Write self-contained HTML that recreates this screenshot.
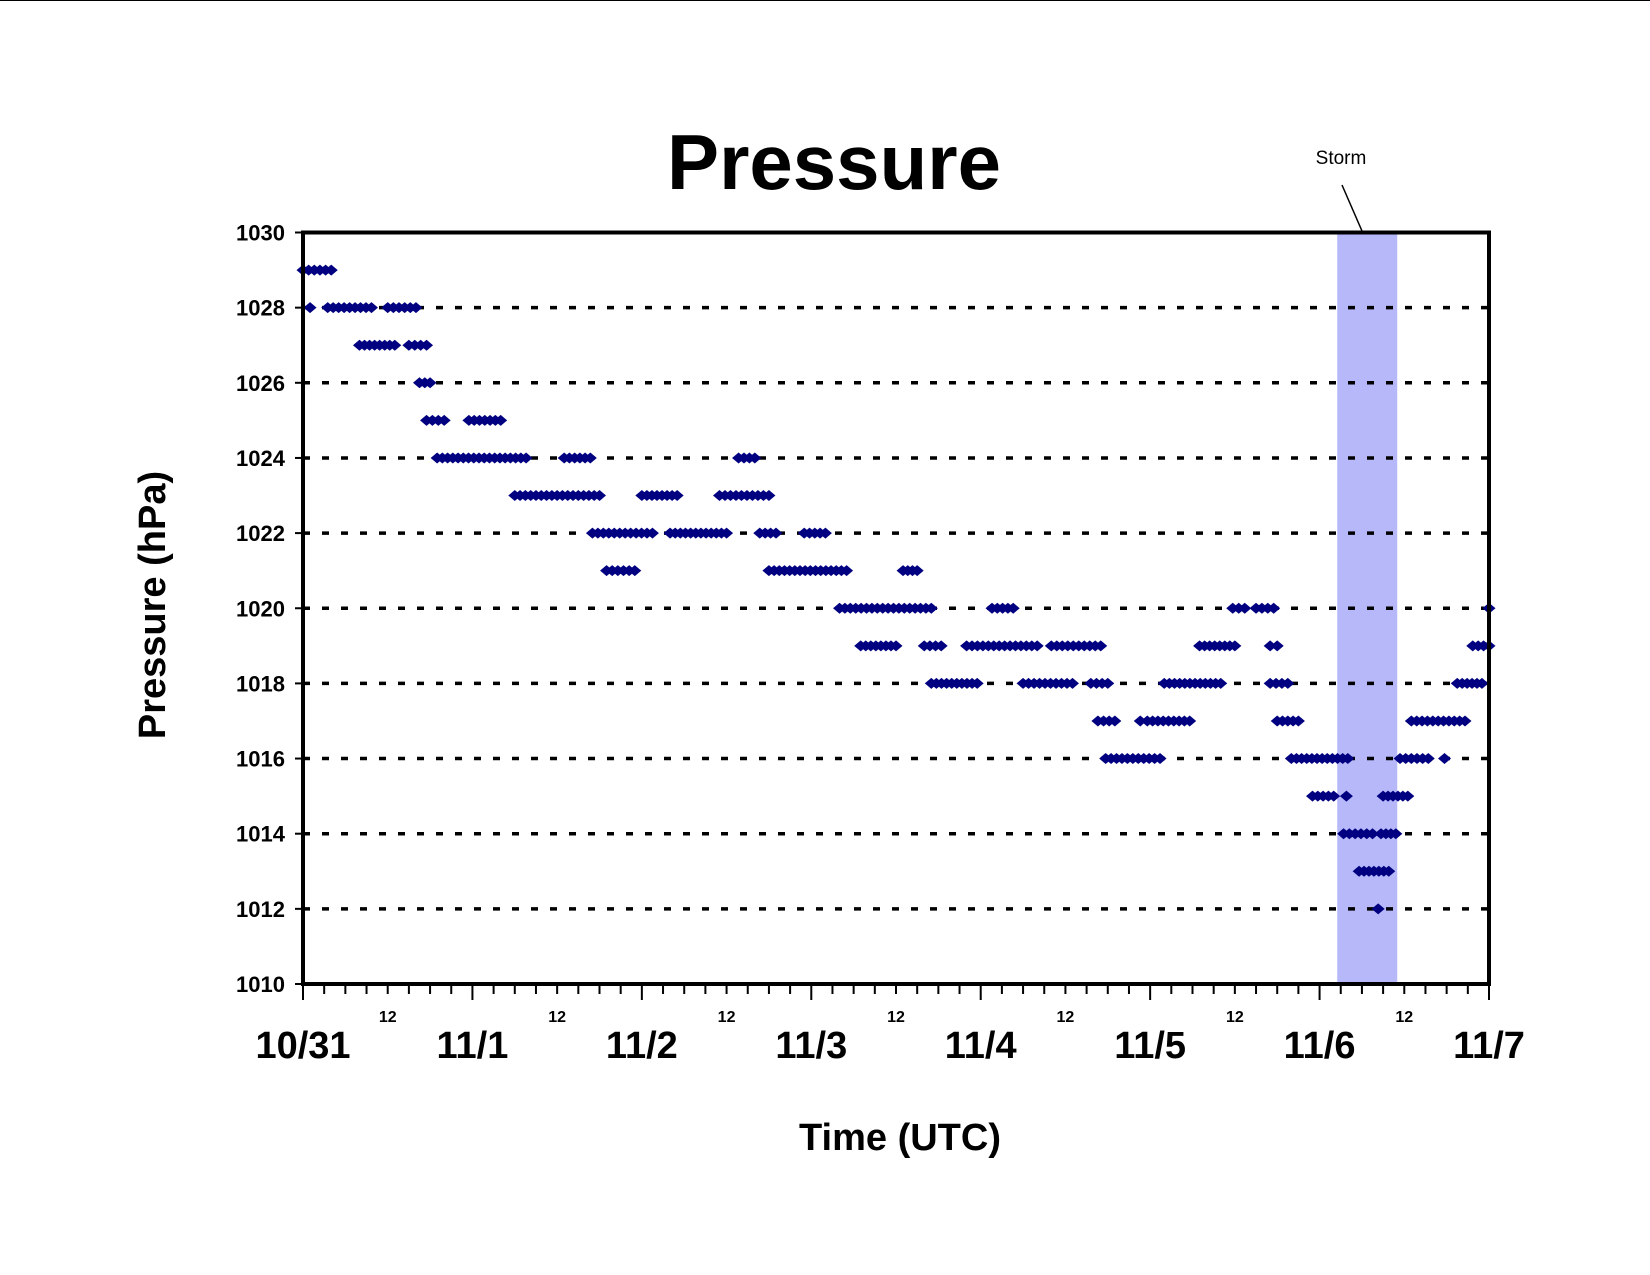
<!DOCTYPE html>
<html><head><meta charset="utf-8"><style>
html,body{margin:0;padding:0;background:#fff;}
svg{display:block;font-family:"Liberation Sans",Arial,sans-serif;}
</style></head><body>
<svg id="chart" width="1650" height="1275" viewBox="0 0 1650 1275" xmlns="http://www.w3.org/2000/svg">
<line x1="0" y1="0.5" x2="1650" y2="0.5" stroke="#000" stroke-width="1"/>
<text x="834" y="189" font-size="78" font-weight="bold" text-anchor="middle">Pressure</text>
<text transform="translate(165,605) rotate(-90)" font-size="38" font-weight="bold" text-anchor="middle">Pressure (hPa)</text>
<text x="900" y="1150" font-size="38" font-weight="bold" text-anchor="middle">Time (UTC)</text>
<g id="plot"></g>
</svg>
<script>
const yTicks=[1010,1012,1014,1016,1018,1020,1022,1024,1026,1028,1030];
const dayLabels=["10/31","11/1","11/2","11/3","11/4","11/5","11/6","11/7"];
const storm=[146.5,155];
// observation runs: start hour, end hour, pressure
const runStart=[0,1,3.5,12,8,15,16.5,17.5,23.5,19,37,61.7,30,48,59,41,52,64.7,71,43,66,85,76,97.6,131.7,135,168,79,88,94,106,127,137,165.7,89,102,111.6,122,137,163.5,112.6,118.6,119.6,138,157,113.7,140,155.4,161.7,143,147.8,153,147.4,152.7,149.6,152.3];
const runEnd  =[4,1,9.7,16,13,17.5,18,20,28,31.6,40.7,64,42,53,66,49.5,60,67,74,47,77,87,89,100.6,133.4,137.5,168,84,90.4,104,113,132,138,168,95.5,109,114,130,139.5,167,115,118.6,125.6,141,164.6,121.4,148,159.4,161.7,146,147.8,156.5,151.5,154.8,153.8,152.3];
const runValue=[1029,1028,1028,1028,1027,1027,1026,1025,1025,1024,1024,1024,1023,1023,1023,1022,1022,1022,1022,1021,1021,1021,1020,1020,1020,1020,1020,1019,1019,1019,1019,1019,1019,1019,1018,1018,1018,1018,1018,1018,1017,1017,1017,1017,1017,1016,1016,1016,1016,1015,1015,1015,1014,1014,1013,1012];

const L=303,R=1489,T=232.5,B=984;
const xS=h=>L+(h/168)*(R-L);
const yS=p=>B-(p-1010)/20*(B-T);
const NS="http://www.w3.org/2000/svg";
const g=document.getElementById('plot');
function mk(tag,attrs){const e=document.createElementNS(NS,tag);for(const k in attrs)e.setAttribute(k,attrs[k]);g.appendChild(e);return e;}

// storm band
let sb=mk('rect',{x:xS(storm[0]),y:T,width:xS(storm[1])-xS(storm[0]),height:B-T,fill:'#b6b8fa'});


let sl=mk('line',{x1:1342,y1:185,x2:1362,y2:231,stroke:'#000','stroke-width':1.5});


let st=mk('text',{x:1341,y:164,'font-size':19,'text-anchor':'middle'});
st.textContent='Storm';



// gridlines + y ticks
yTicks.forEach(v=>{
  const y=yS(v);
  if(v!==1010&&v!==1030){
    let gl=mk('line',{x1:L,y1:y,x2:R,y2:y,stroke:'#000','stroke-width':3.5,'stroke-dasharray':'7 12'});
    
    
  }
  let tk=mk('line',{x1:L-8,y1:y,x2:L,y2:y,stroke:'#000','stroke-width':2});
  
  
  let t=mk('text',{x:L-18,y:y+8,'font-size':22,'font-weight':'bold','text-anchor':'end'});
  t.textContent=v;
  
  
});

// x ticks
for(let h=0;h<=168;h+=3){
  const x=xS(h);
  const len=(h%24===0)?16:10;
  let tk=mk('line',{x1:x,y1:B,x2:x,y2:B+len,stroke:'#000','stroke-width':2});
  
  
}
dayLabels.forEach((d,i)=>{
  let t=mk('text',{x:xS(i*24),y:1058,'font-size':38,'font-weight':'bold','text-anchor':'middle'});
  t.textContent=d;
  
  
  if(i<7){
    let t2=mk('text',{x:xS(i*24+12),y:1022,'font-size':16,'font-weight':'bold','text-anchor':'middle'});
    t2.textContent='12';
    
    
  }
});

// points
runStart.forEach((s,i)=>{
  const e=runEnd[i],v=runValue[i];
  const n=Math.max(1,Math.round((e-s)/0.75)+1);
  for(let k=0;k<n;k++){
    const h=n===1?s:s+(e-s)*k/(n-1);
    const x=xS(h),y=yS(v);
    let p=mk('polygon',{points:`${x-6.5},${y} ${x},${y-5.5} ${x+6.5},${y} ${x},${y+5.5}`,fill:'#000080'});
    
    
  }
});

// frame
let fr=mk('rect',{x:L,y:T,width:R-L,height:B-T,fill:'none',stroke:'#000','stroke-width':4});


</script>
</body></html>
